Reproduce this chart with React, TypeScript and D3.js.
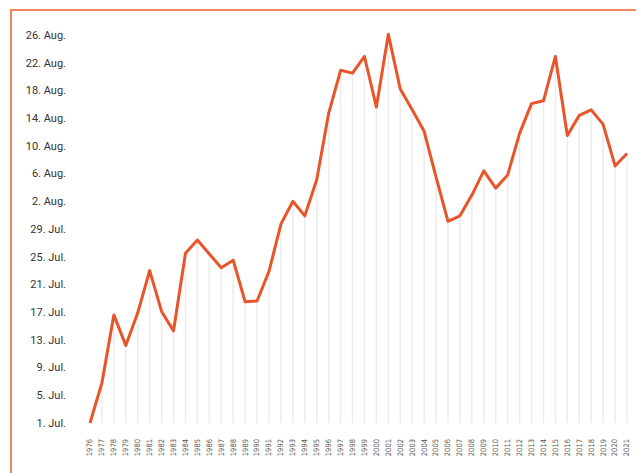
import React, { useRef, useEffect } from 'react';
import * as d3 from 'd3';

// years shown on the x axis
const years = d3.range(1976, 2022);

// day of the season, counted in days after 1 July
const dayAfterJuly1 = [
  0, 5.8, 15.6, 11.2, 15.9, 22.0, 16.1, 13.3, 24.5, 26.4,
  24.4, 22.4, 23.5, 17.5, 17.6, 21.9, 28.7, 32.0, 29.9, 35.1,
  44.7, 50.9, 50.5, 52.9, 45.6, 56.1, 48.2, 45.2, 42.1, 35.5,
  29.1, 29.9, 32.9, 36.4, 33.9, 35.8, 41.8, 46.1, 46.5, 52.9,
  41.5, 44.4, 45.2, 43.1, 37.1, 38.9,
];

// y tick values (days after 1 July) and their labels
const tickDays = [0, 4, 8, 12, 16, 20, 24, 28, 32, 36, 40, 44, 48, 52, 56];
const tickLabels = [
  '1. Jul.', '5. Jul.', '9. Jul.', '13. Jul.', '17. Jul.', '21. Jul.', '25. Jul.', '29. Jul.',
  '2. Aug.', '6. Aug.', '10. Aug.', '14. Aug.', '18. Aug.', '22. Aug.', '26. Aug.',
];

const App = () => {
  const svgRef = useRef<SVGSVGElement>(null);

  useEffect(() => {
    const svg = d3.select(svgRef.current);
    svg.selectAll('*').remove();

    const width = 636;
    const height = 473;

    const x = d3.scaleLinear().domain([1976, 2021]).range([90, 627]);
    const y = d3.scaleLinear().domain([0, 56]).range([423, 35]);

    // frame
    svg
      .append('rect')
      .attr('x', 11)
      .attr('y', 10)
      .attr('width', width + 20)
      .attr('height', height + 20)
      .style('fill', 'none')
      .style('stroke', '#f3845c')
      .style('stroke-width', 2);

    // drop lines
    svg
      .append('g')
      .selectAll('line')
      .data(years)
      .enter()
      .append('line')
      .attr('x1', (d) => x(d))
      .attr('x2', (d) => x(d))
      .attr('y1', (d, i) => y(dayAfterJuly1[i]))
      .attr('y2', y(0))
      .style('stroke', '#ececec')
      .style('stroke-width', 1.5);

    // y labels
    svg
      .append('g')
      .selectAll('text')
      .data(tickDays)
      .enter()
      .append('text')
      .text((d, i) => tickLabels[i])
      .attr('x', 66)
      .attr('y', (d) => y(d))
      .attr('dy', '0.35em')
      .attr('text-anchor', 'end')
      .style('font-family', 'Roboto, sans-serif')
      .style('font-size', '11px')
      .style('fill', '#333');

    // x labels
    svg
      .append('g')
      .selectAll('text')
      .data(years)
      .enter()
      .append('text')
      .text((d) => d)
      .attr('transform', (d) => `translate(${x(d)},439) rotate(-90)`)
      .attr('dy', '0.32em')
      .attr('text-anchor', 'end')
      .style('font-family', '"DejaVu Sans Condensed", "DejaVu Sans", sans-serif')
      .style('font-size', '7.5px')
      .style('fill', '#555');

    // line
    const line = d3
      .line<number>()
      .x((d, i) => x(years[i]))
      .y((d) => y(d));

    svg
      .append('path')
      .datum(dayAfterJuly1)
      .attr('d', line)
      .style('fill', 'none')
      .style('stroke', '#e8552a')
      .style('stroke-width', 3)
      .style('stroke-linejoin', 'round');
  }, []);

  return (
    <svg
      ref={svgRef}
      width="636"
      height="473"
      style={{ position: 'absolute', left: 0, top: 0, background: '#fff' }}
    ></svg>
  );
};

export default App;
